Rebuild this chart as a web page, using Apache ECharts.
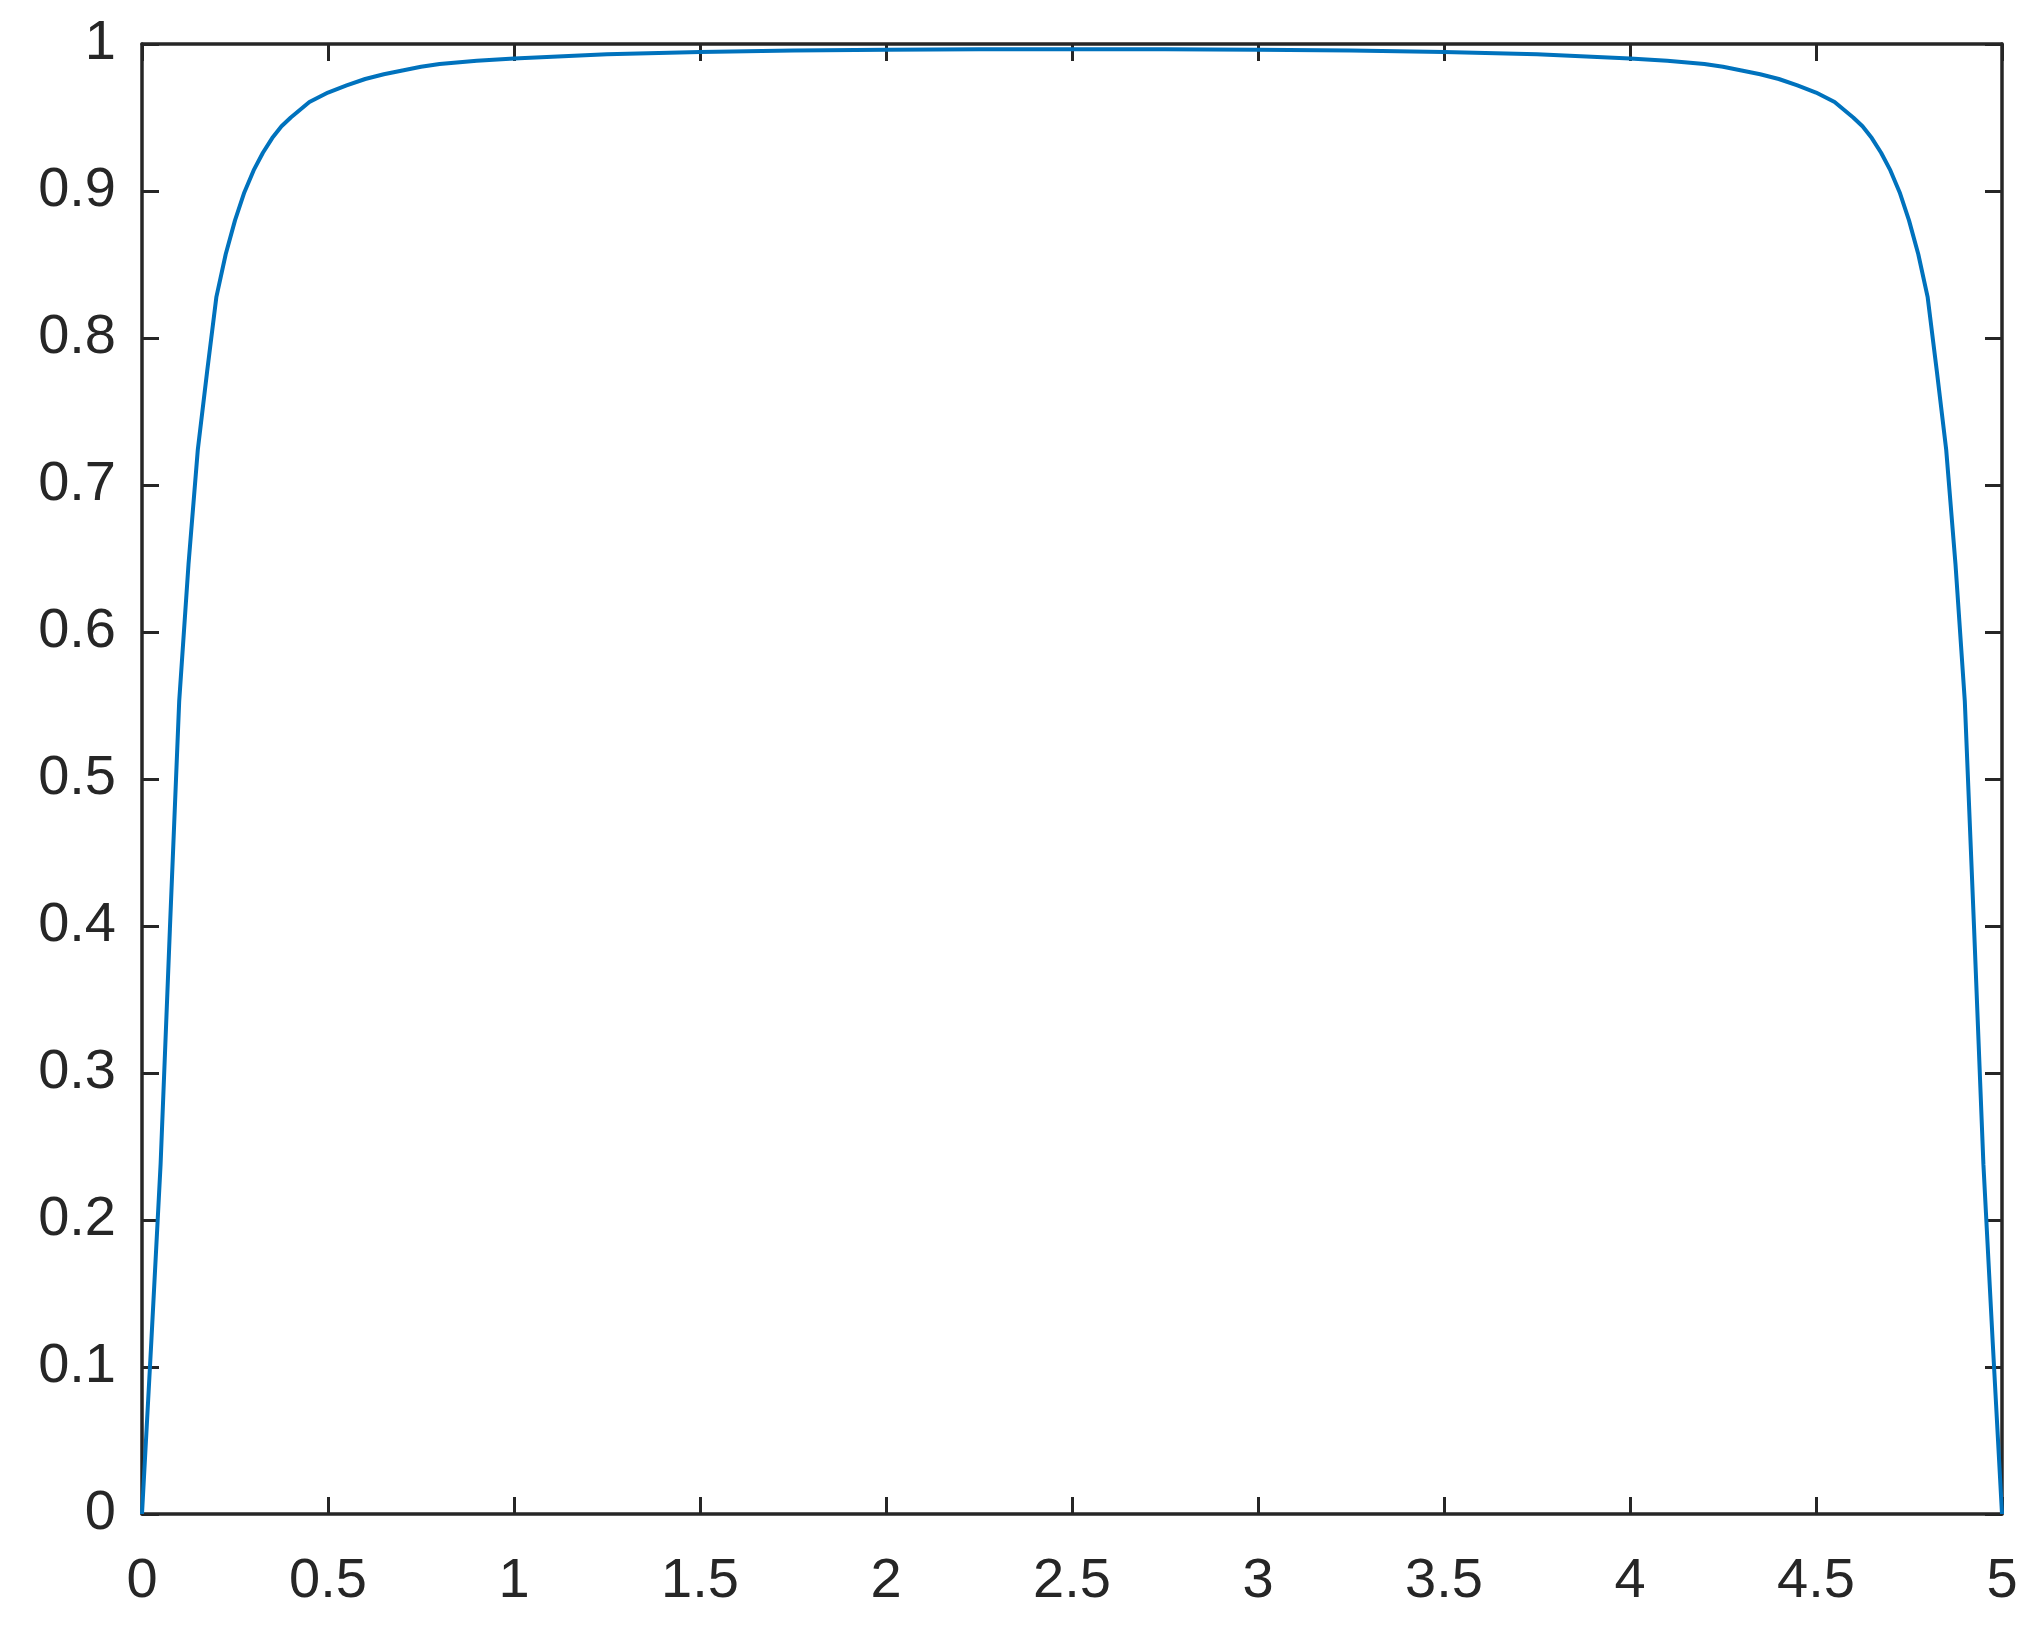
<!DOCTYPE html>
<html>
<head>
	<meta charset="utf-8">
	<title>curve</title>
	<script src="https://cdn.jsdelivr.net/npm/echarts@6/dist/echarts.min.js"></script>
	<style>
		html, body { margin: 0; padding: 0; background: #fff; }
		#main { width: 2041px; height: 1650px; }
	</style>
</head>
<body>
<div id="main"></div>
<script type="text/javascript">
	// values
	var xValues = [0, 0.025, 0.05, 0.075, 0.1, 0.125, 0.15, 0.175, 0.2, 0.225, 0.25, 0.275, 0.3, 0.325, 0.35, 0.375, 0.4, 0.45, 0.5,
		0.55, 0.6, 0.65, 0.7, 0.75, 0.8, 0.9, 1, 1.25, 1.5, 1.75, 2, 2.25, 2.5,
		2.75, 3, 3.25, 3.5, 3.75, 4, 4.1, 4.2, 4.25, 4.3, 4.35, 4.4, 4.45, 4.5, 4.55, 4.6, 4.625, 4.65, 4.675,
		4.7, 4.725, 4.75, 4.775, 4.8, 4.825, 4.85, 4.875, 4.9, 4.925, 4.95, 4.975, 5];
	var yValues = [0, 0.117, 0.238, 0.398, 0.553, 0.646, 0.724, 0.777, 0.828, 0.857, 0.880, 0.899, 0.914, 0.926, 0.936, 0.944, 0.950, 0.9605, 0.967,
		0.9718, 0.9762, 0.9794, 0.9820, 0.9845, 0.9864, 0.9886, 0.9902, 0.993, 0.9946, 0.9956, 0.9961, 0.9964, 0.9965,
		0.9964, 0.9961, 0.9956, 0.9946, 0.993, 0.9902, 0.9886, 0.9864, 0.9845, 0.9820, 0.9794, 0.9762, 0.9718, 0.967, 0.9605, 0.950, 0.944, 0.936, 0.926,
		0.914, 0.899, 0.880, 0.857, 0.828, 0.777, 0.724, 0.646, 0.553, 0.398, 0.238, 0.117, 0];
	var xTicks = {min: 0, max: 5, interval: 0.5};
	var yTicks = {min: 0, max: 1, interval: 0.1};

	var axisColor = '#262626';
	var seriesData = [];
	xValues.forEach(function (x, i) {
		seriesData.push([x, yValues[i]]);
	});

	function axis(pos, ticks, labels) {
		return {
			type: 'value',
			position: pos,
			min: ticks.min,
			max: ticks.max,
			interval: ticks.interval,
			splitLine: {show: false},
			axisLine: {show: true, onZero: false, lineStyle: {color: axisColor, width: 3.5}},
			axisTick: {show: true, inside: true, length: 17, lineStyle: {color: axisColor, width: 3}},
			axisLabel: {
				show: labels,
				color: axisColor,
				fontFamily: 'Liberation Sans, Arial, sans-serif',
				fontSize: 56,
				margin: (pos == 'bottom') ? 40 : 26
			}
		};
	}

	var myChart = echarts.init(document.getElementById('main'), null, {renderer: 'canvas'});
	var option = {
		backgroundColor: '#ffffff',
		animation: false,
		grid: {
			left: 142,
			right: 39,
			top: 44,
			bottom: 136,
			containLabel: false,
			outerBoundsMode: 'none'
		},
		xAxis: [
			axis('bottom', xTicks, true),
			axis('top', xTicks, false)
		],
		yAxis: [
			axis('left', yTicks, true),
			axis('right', yTicks, false)
		],
		series: [{
			type: 'line',
			data: seriesData,
			showSymbol: false,
			symbol: 'none',
			lineStyle: {color: '#0072BD', width: 4},
			z: 1
		}]
	};
	myChart.setOption(option);
</script>
</body>
</html>
